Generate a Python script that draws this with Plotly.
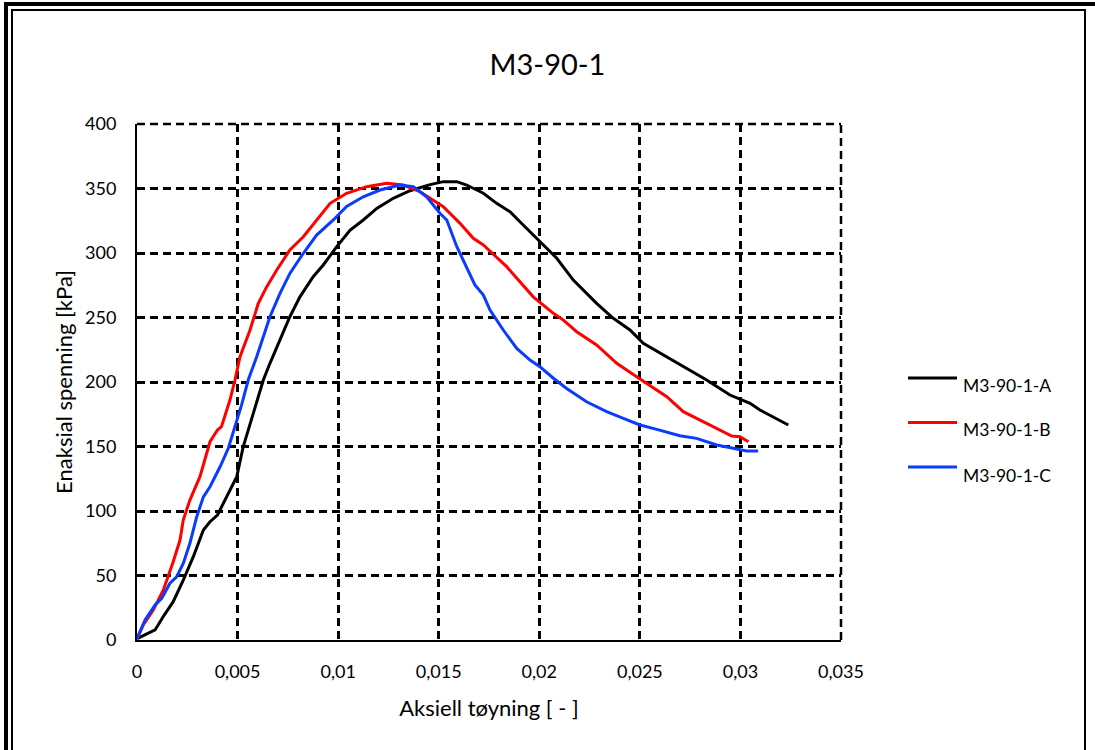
import plotly.graph_objects as go

# ---- data ----
strain_A = [0, 0.0009, 0.0013, 0.0018, 0.0023, 0.0028, 0.0033, 0.00363, 0.0040, 0.00446, 0.00496,
            0.00528, 0.00578, 0.00628, 0.00661, 0.00711, 0.0076, 0.0081, 0.00876, 0.00926, 0.00993,
            0.0106, 0.01125, 0.01192, 0.01274, 0.01357, 0.01457, 0.01523, 0.0159, 0.01639, 0.01722,
            0.01788, 0.01854, 0.0192, 0.02003, 0.02087, 0.02169, 0.02285, 0.02368, 0.02451, 0.02517,
            0.02617, 0.02716, 0.02832, 0.02948, 0.03048, 0.03097, 0.03238]
stress_A = [1, 7.8, 18, 29.7, 46.5, 64.6, 85.3, 91.7, 96.9, 111, 126.6,
            149.8, 175.7, 201.5, 214.5, 232.6, 250.6, 266, 281.6, 290.7, 304.9,
            317.8, 325.6, 334.6, 342.4, 348.3, 353, 355.3, 355.3, 352.7, 346.3,
            338.5, 332, 321.7, 308.8, 295.9, 279, 261, 249.4, 240.3, 230,
            221, 211.9, 201.6, 189.9, 183.5, 178.3, 166.7]

strain_B = [0, 0.00031, 0.00081, 0.00131, 0.0018, 0.00214, 0.0023, 0.00263, 0.00313, 0.00363,
            0.0040, 0.0042, 0.00462, 0.00487, 0.00512, 0.00562, 0.00603, 0.00645, 0.00695, 0.0076,
            0.00827, 0.00893, 0.0096, 0.01042, 0.01142, 0.01241, 0.01324, 0.01407, 0.01473, 0.01523,
            0.01606, 0.01672, 0.01722, 0.01838, 0.0197, 0.0207, 0.0212, 0.02186, 0.02285, 0.02385,
            0.02484, 0.02584, 0.02634, 0.02716, 0.02832, 0.02957, 0.02998, 0.0304]
stress_B = [1, 11.6, 23.3, 38.8, 60.7, 77.5, 93, 108.5, 126.6, 153.7,
            162.8, 165.4, 186, 201.5, 219.6, 240.3, 261, 273.9, 286.8, 302.3,
            312.6, 325.6, 338.5, 346.3, 351.4, 354, 352.7, 347.5, 341, 335.9,
            323, 311.4, 306.2, 289.4, 266, 253.2, 248, 239, 228.7, 214.5,
            204.1, 193.8, 188.6, 177, 168, 158.1, 157.6, 153.7]

strain_C = [0, 0.0004, 0.0009, 0.00123, 0.00164, 0.00197, 0.0023, 0.00263, 0.00297, 0.0033,
            0.00363, 0.00413, 0.00454, 0.00487, 0.0052, 0.00553, 0.00595, 0.00661, 0.00711, 0.0076,
            0.00827, 0.00893, 0.00976, 0.01042, 0.01125, 0.01208, 0.01307, 0.01374, 0.0144, 0.01506,
            0.0154, 0.0159, 0.01639, 0.0168, 0.01722, 0.01755, 0.01821, 0.01888, 0.01954, 0.02003,
            0.0207, 0.02136, 0.02235, 0.02335, 0.02418, 0.02501, 0.02584, 0.02699, 0.02782, 0.02882,
            0.02964, 0.0303, 0.03088]
stress_C = [1, 15.5, 27.1, 32.3, 44, 49, 59.4, 75, 95.6, 111,
            118.8, 134.3, 148.6, 165.4, 182.2, 201.5, 219.6, 250.6, 268.7, 284.2,
            299.8, 313.9, 325.6, 336, 343.6, 348.8, 352.7, 351.4, 343.6, 330.8,
            325.6, 304.9, 289.4, 275.2, 267.4, 255.8, 240.3, 226, 217, 211.9,
            202.9, 195, 184.7, 177, 171.8, 166.7, 163.3, 158.4, 156.3, 151.2,
            148.6, 146.5, 146.5]

series_names = ["M3-90-1-A", "M3-90-1-B", "M3-90-1-C"]
series_colors = ["#000000", "#FF0000", "#0A3CFF"]
x_ticks = [0, 0.005, 0.01, 0.015, 0.02, 0.025, 0.03, 0.035]
x_tick_text = ["0", "0,005", "0,01", "0,015", "0,02", "0,025", "0,03", "0,035"]
y_ticks = [0, 50, 100, 150, 200, 250, 300, 350, 400]
X_MAX, Y_MAX = 0.035, 400

FONT = "Lato, 'Open Sans', sans-serif"
DASH = "8px,5px"
GRID_W = 2.5

fig = go.Figure()
for xs, ys, name, col in zip([strain_A, strain_B, strain_C], [stress_A, stress_B, stress_C],
                             series_names, series_colors):
    fig.add_trace(go.Scatter(x=xs, y=ys, mode="lines", name=name, showlegend=False,
                             line=dict(color=col, width=3)))

# plot area: x 137..841, y 124..640
L, R, T, B = 137, 841, 124, 640
W, H = 1095, 750
pw, ph = R - L, B - T


def px(xp):
    return (xp - L) / pw


def py(yp):
    return (B - yp) / ph


fig.update_layout(
    width=W, height=H,
    margin=dict(l=L, r=W - R, t=T, b=H - B, pad=0),
    paper_bgcolor="white", plot_bgcolor="white",
    font=dict(family=FONT, color="#000000", size=18),
    title=dict(text="M3-90-1", x=0.5, xanchor="center", xref="container",
               y=1 - 65 / H, yanchor="middle", yref="container",
               font=dict(size=29, family=FONT, color="#000")),
    showlegend=False,
    xaxis=dict(range=[0, X_MAX], tickvals=x_ticks, ticktext=x_tick_text,
               showgrid=True, gridcolor="#000", gridwidth=GRID_W, griddash=DASH,
               showline=True, linecolor="#000", linewidth=2, zeroline=False,
               ticks="", ticklabelstandoff=14, tickfont=dict(size=18),
               title=dict(text="Aksiell tøyning [ - ]", standoff=20, font=dict(size=22))),
    yaxis=dict(range=[0, Y_MAX], tickvals=y_ticks,
               showgrid=True, gridcolor="#000", gridwidth=GRID_W, griddash=DASH,
               showline=True, linecolor="#000", linewidth=2, zeroline=False,
               ticks="", ticklabelstandoff=15, tickfont=dict(size=18),
               title=dict(text="Enaksial spenning [kPa]", standoff=6, font=dict(size=22))),
)

# gridlines on the top and right edges of the plot area (paper refs so they are not clipped)
fig.add_shape(type="line", xref="paper", yref="paper", x0=0, x1=1, y0=1, y1=1,
              line=dict(color="#000", width=GRID_W, dash=DASH), layer="below")
fig.add_shape(type="line", xref="paper", yref="paper", x0=1, x1=1, y0=0, y1=1,
              line=dict(color="#000", width=GRID_W, dash=DASH), layer="below")

# legend (drawn as line samples + text)
legend_line_y = [378, 422.5, 467]
legend_text_y = [385, 430, 475.5]
for name, col, ly, ty in zip(series_names, series_colors, legend_line_y, legend_text_y):
    fig.add_shape(type="line", xref="paper", yref="paper", x0=px(908), x1=px(957),
                  y0=py(ly), y1=py(ly), line=dict(color=col, width=3))
    fig.add_annotation(xref="paper", yref="paper", x=px(961), y=py(ty), text=name,
                       showarrow=False, xanchor="left", yanchor="middle",
                       font=dict(size=17.5, family=FONT, color="#000"))

# frame lines around the chart
fig.add_shape(type="rect", xref="paper", yref="paper",
              x0=px(6), x1=px(1120), y0=py(4), y1=py(790),
              line=dict(color="#000", width=4), fillcolor="rgba(0,0,0,0)", layer="above")
fig.add_shape(type="rect", xref="paper", yref="paper",
              x0=px(12), x1=px(1085), y0=py(10), y1=py(790),
              line=dict(color="#000", width=2), fillcolor="rgba(0,0,0,0)", layer="above")

fig.write_html("out.html")
